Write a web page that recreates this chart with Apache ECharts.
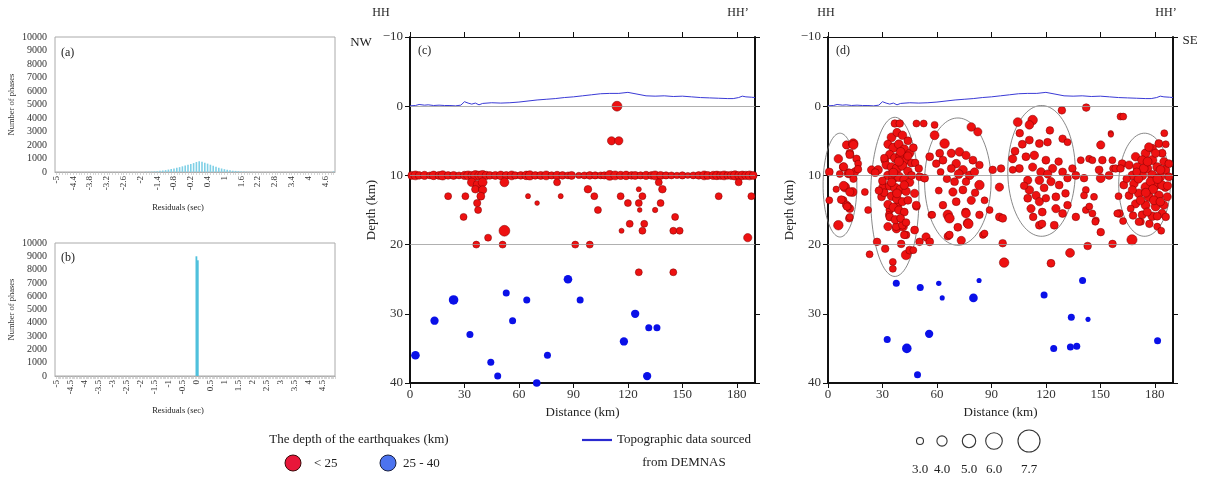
<!DOCTYPE html>
<html><head><meta charset="utf-8">
<script src="https://cdn.jsdelivr.net/npm/echarts/dist/echarts.min.js"></script>
<style>html,body{margin:0;padding:0;background:#fff}#c{width:1208px;height:477px}</style>
</head><body><div id="c"></div>
<script>
// ---------- DATA ----------
var binsA   = [-2.0,-1.9,-1.8,-1.7,-1.6,-1.5,-1.4,-1.3,-1.2,-1.1,-1.0,-0.9,-0.8,-0.7,-0.6,-0.5,-0.4,-0.3,-0.2,-0.1,0.0,0.1,0.2,0.3,0.4,0.5,0.6,0.7,0.8,0.9,1.0,1.1,1.2,1.3,1.4,1.5,1.6,1.7,1.8,1.9,2.0,2.1,2.2,4.9];
var countsA = [5,8,12,18,30,45,60,85,110,140,180,220,260,310,360,420,480,540,600,660,740,800,760,690,620,540,460,390,320,260,210,170,130,100,80,60,45,32,22,15,10,6,4,40];
var binsB   = [0.0, 0.05];
var countsB = [9000, 8700];
var ticksA  = [-5,-4.4,-3.8,-3.2,-2.6,-2,-1.4,-0.8,-0.2,0.4,1,1.6,2.2,2.8,3.4,4,4.6];
var ticksB  = [-5,-4.5,-4,-3.5,-3,-2.5,-2,-1.5,-1,-0.5,0,0.5,1,1.5,2,2.5,3,3.5,4,4.5];
var distTicks  = [0,30,60,90,120,150,180];
var refDepths  = [0,10,20];
var legendMags = [3.0,4.0,5.0,6.0,7.7];

// topography profile: [distance km, elevation km]
var topoX = [0,3,5,8,10,13,16,19,22,25,28,30,32,34,36,38,40,45,50,55,60,65,70,75,80,85,90,95,100,105,110,115,120,125,130,135,140,145,150,155,160,165,170,175,178,181,183,185,188,190];
var topoE = [0.05,0.1,0.25,0.15,0.2,0.1,0.15,0.1,0.1,0.05,0.15,0.65,0.45,0.3,0.45,0.2,0.4,0.5,0.45,0.5,0.6,0.75,0.9,1.0,1.1,1.25,1.35,1.5,1.65,1.8,1.85,1.85,2.0,1.75,1.5,1.45,1.5,1.4,1.45,1.35,1.25,1.2,1.15,1.1,1.1,1.25,1.45,1.35,1.3,1.25];

// panel (c): [distance, depth, magnitude]
var redC = [
[1,10,3.3],[3,10,3.6],[5,10,3.2],[8,10,3.4],[11,10,3.0],[13,10,3.5],[16,10,3.3],[18,10,3.7],[21,10,3.2],[24,10,3.3],[27,10,3.0],[30,10,3.4],[32,10,3.6],[34,10,3.3],[36,10,3.8],[38,10,3.5],[40,10,3.9],[42,10,3.4],[44,10,3.2],[47,10,3.3],[50,10,3.5],[53,10,3.3],[56,10,3.6],[58,10,3.1],[61,10,3.2],[64,10,3.5],[66,10,3.7],[69,10,3.2],[72,10,3.3],[75,10,3.6],[78,10,3.1],[81,10,3.4],[84,10,3.2],[87,10,3.0],[89,10,3.3],[93,10,2.8],[96,10,3.0],[99,10,3.2],[102,10,3.1],[105,10,3.0],[107,10,3.1],[110,10,3.9],[113,10,3.6],[116,10,3.4],[119,10,3.5],[122,10,3.2],[124,10,3.3],[127,10,3.1],[130,10,3.4],[133,10,3.2],[135,10,3.6],[138,10,3.3],[141,10,3.1],[144,10,3.0],[147,10,2.8],[150,10,3.1],[153,10,2.7],[156,10,3.0],[159,10,3.2],[162,10,3.6],[164,10,3.3],[167,10,3.4],[169,10,3.5],[171,10,3.3],[173,10,3.6],[175,10,3.2],[177,10,3.4],[179,10,3.7],[181,10,3.3],[183,10,3.5],[185,10,3.4],[187,10,3.6],[189,10,3.3],
[34,11,3.5],[37,11.3,3.3],[40,11,3.6],[52,11,3.6],[81,11,3.0],[137,11,3.0],[181,11,3.0],
[36,12,3.2],[40,12.1,3.4],[98,12,3.2],[126,12,2.4],[139,12,3.2],
[21,13,3.0],[30.5,13,3.0],[39,13,3.3],[65,13,2.4],[83,13,2.4],[101.5,13,3.0],[116,13,3.0],[128,13,3.0],[170,13,3.0],[188,13,3.0],
[37,14,3.1],[70,14,2.3],[120,14,3.0],[126,14,3.0],[138,14,3.0],
[37.5,15,3.0],[103.5,15,3.0],[126.5,15,2.3],[135,15,2.5],
[29.5,16,3.0],[146,16,3.0],
[121,17,3.0],[129,17,3.0],
[52,18,4.2],[116.5,18,2.4],[128,18,3.0],[145,18,3.0],[148.5,18,3.0],
[43,19,3.0],[186,19,3.4],
[36.5,20,3.0],[51,20,3.0],[91,20,3.0],[99,20,3.0],
[126,24,3.0],[145,24,3.0],
[114,0,3.9],[111,5,3.4],[115,5,3.4]
];
var blueC = [[3,36,3.5],[13.5,31,3.4],[24,28,3.8],[33,33,3.0],[44.5,37,3.0],[48.3,39,3.0],[53,27,3.0],[56.5,31,3.0],[64.3,28,3.0],[69.8,40,3.2],[75.7,36,3.0],[87,25,3.5],[93.7,28,3.0],[117.8,34,3.4],[124,30,3.4],[130.6,39,3.4],[131.5,32,3.0],[136,32,3.0]];

// panel (d): relocated events
var redD = [
[0.7,9.5,3.3],[5.7,7.6,3.5],[10.2,5.6,3.4],[13.9,5.4,3.8],[12,6.8,3.3],[15.7,7.6,3.2],[16.6,8.3,3.0],[14.8,9.5,3.4],[11.2,9.7,3.6],[8.4,8.8,3.3],[9.3,11.7,3.8],[13.5,12.4,3.6],[8.4,13.6,3.2],[10.2,14.3,3.4],[12,14.8,3.3],[11.7,16.2,3.2],[5.7,17.2,3.8],[0.7,13.6,3.0],[12,16,3.0],[11,14.5,3.2],[14,5.6,3.6],[12,7,3.3],[8.6,8.75,3.4],[12,9.7,3.5],[16.5,9.1,3.2],[8.6,11.5,3.6],[12,12.4,3.4],[7.3,13.5,3.3],[10.5,14.5,3.2],[6.5,9.8,3.0],[14,10.5,3.1],[4.5,12,2.8],
[20.3,12.4,3.0],[22.1,15,3.0],
[24,9.2,3.4],[27.6,9.2,3.5],[31.3,7.8,3.3],[30.4,11.7,3.6],[29.5,13.1,3.3],[34,15,3.2],[33,17.4,3.4],[37.7,17.7,3.5],[41.3,17.4,3.6],[43,18.6,3.2],[47.7,17.9,3.3],[48.7,14.5,3.2],[47.7,12.6,3.4],[50.5,10.2,3.3],[53.2,10.4,3.3],[36.8,2.5,3.2],[39.5,2.5,3.2],[48.7,2.5,3.0],[52.7,2.5,3.0],[58.7,2.7,3.0],
[22.9,21.4,3.0],[27,19.6,3.2],[31.5,20.6,3.2],[33.5,15.7,3.0],[35.7,22.5,3.0],[35.7,23.5,3.0],[40.3,19.9,3.2],[43,21.5,3.8],[45,20.8,3.3],[47,20.8,3.0],[50.4,19.6,3.2],[54,18.9,3.4],[56,19.6,3.3],[37.6,17.4,3.3],[41,17.2,3.3],[42,18.6,3.2],[38.5,14.3,3.2],[48.6,14.3,3.3],
[35,4.5,3.6],[38,3.8,3.4],[41,4.2,3.5],[44,5,3.3],[33,5.5,3.4],[36,6,3.7],[39,5.5,3.6],[42,6.2,3.5],[45,6.8,3.4],[34,7,3.5],[37,7.5,3.7],[40,7.2,3.8],[43,7.8,3.5],[46,8.2,3.3],[32,8.5,3.4],[35,8.8,3.6],[38,9,3.8],[41,8.6,3.7],[44,9.4,3.5],[33,10,3.5],[36,10.4,3.7],[39,10.2,3.8],[42,10.6,3.6],[45,11,3.4],[34,11.5,3.6],[37,11.8,3.7],[40,12,3.6],[43,12.3,3.5],[31,12.5,3.3],[35,13,3.5],[38,13.4,3.6],[41,13.8,3.4],[44,13.6,3.3],[33,14.2,3.4],[36,14.6,3.5],[39,15,3.4],[42,15.3,3.3],[34,16,3.3],[37,16.4,3.4],[40,16.2,3.3],[43,16.8,3.2],[38,12.6,3.6],[36,9.6,3.6],[40,6.6,3.6],[42,11.4,3.5],[39,8,3.7],[35,11,3.5],[44,7.2,3.4],[46,10,3.3],[30,10.8,3.3],[28,12.2,3.2],[26,9.6,3.3],[48,8.2,3.2],[50,9,3.2],[47,6,3.3],[31,7.5,3.2],
[58.7,4.2,3.6],[64.2,5.4,3.8],[78.9,3,3.5],[82.5,3.7,3.4],[61.5,6.8,3.3],[67.9,6.8,3.4],[72.4,6.6,3.5],[76,7.1,3.4],[79.8,7.8,3.3],[83.4,8.5,3.2],[70.6,8.3,3.5],[67.9,9,3.3],[74.3,9.2,3.6],[78,10,3.5],[80.7,9.5,3.4],[63.3,7.8,3.3],[59.6,8.3,3.2],[56,7.3,3.3],[69.7,10.9,3.3],[76,10.9,3.2],[83.4,11.4,3.8],[68.8,12.4,3.4],[74.3,12.1,3.3],[78.9,13.6,3.4],[70.6,13.8,3.3],[86.2,13.6,3.0],[63.3,14.3,3.2],[75.8,15.3,3.3],[66,15.7,3.8],[77,16.9,3.7],[83.4,15.7,3.2],[67,16.2,3.3],[56.9,15.7,3.0],[85.3,18.6,3.0],[66,18.8,3.2],[73.4,19.4,3.4],[66.9,16.2,3.8],[76,15.5,3.6],[77.3,17,3.8],[86.2,18.4,3.0],[66.9,18.6,3.2],[57.4,15.7,3.0],[72,9.8,3.6],[65.5,10.5,3.2],[81,12.5,3.2],[61,12.2,3.0],[71.5,17.5,3.3],[62,9.5,3.0],
[90.7,9.2,3.2],[95.3,9,3.2],[94.4,11.7,3.4],[94.4,16,3.3],[96.2,16.2,3.3],[96.2,19.8,3.2],[97,22.6,3.8],[89,15,3.0],
[104.5,2.3,3.6],[112.7,2,3.8],[110.9,2.7,3.5],[105.6,3.9,3.2],[110.9,4.9,3.3],[116.4,5.4,3.3],[120.9,5.2,3.2],[122.2,3.5,3.2],[129.2,4.7,3.2],[131.9,5.2,3.0],[101.7,7.6,3.4],[109,7.3,3.3],[113.6,7.1,3.5],[120,7.8,3.3],[123.7,9,3.4],[129.2,9.5,3.3],[134.6,9,3.2],[112.7,8.8,3.4],[117.3,9.5,3.5],[105.4,9,3.3],[101.7,9.2,3.0],[110,10.7,3.4],[116.4,10.7,3.5],[122.8,10.9,3.4],[127.3,11.4,3.3],[131.9,10.4,3.2],[136.5,10,3.3],[139.2,7.8,3.0],[143.8,7.6,3.0],[150.2,5.6,3.4],[155.7,3.9,2.5],[161.1,1.5,3.0],[149.3,9.2,3.3],[154.8,10,3.3],[150.2,10.4,3.6],[110.9,12.1,3.5],[114.6,12.9,3.4],[110,13.3,3.3],[116.4,13.8,3.4],[120,13.3,3.2],[125.5,13.1,3.3],[130.8,12.6,3.2],[111.8,14.8,3.4],[118,15.3,3.3],[125.5,14.8,3.4],[129.2,15.5,3.3],[131.9,14.3,3.2],[142,12.1,3.0],[146.5,13.1,3.0],[116.4,17.2,3.3],[124.6,17.2,3.3],[136.5,16,3.2],[142,15,3.0],[147.5,16.5,3.0],[150.2,18.2,3.2],[117.9,17,3.2],[122.8,22.7,3.3],[133.3,21.2,3.6],[143,20.2,3.2],[147.2,16.7,3.0],[156.7,19.9,3.2],[160.4,15.5,3.3],[167.4,19.3,4.0],[172.3,16.7,3.0],[143.9,14.5,3.0],[128.8,0.6,3.2],[142.2,0.2,3.2],[162.6,1.5,3.0],[155.8,4.1,2.5],[185.2,3.9,3.0],[107,5.5,3.3],[103,6.5,3.3],[119,11.8,3.3],[113,16,3.2],[127,8,3.2],[121,9.8,3.4],[108,11.5,3.2],
[145.6,7.8,3.0],[151.1,7.8,3.2],[156.6,7.8,3.0],[141,10.4,3.2],[141,12.9,3.0],[145.6,15.5,3.0],[157,9,3.0],[160,13,3.0],
[182.2,5.4,3.3],[178.6,6.1,3.4],[174.9,6.8,3.6],[184,6.8,3.3],[169.4,7.3,3.5],[173,7.8,3.6],[178.6,7.8,3.7],[185,8,3.4],[162,8.3,3.3],[165.8,8.5,3.4],[170.3,8.8,3.6],[175.8,9,3.7],[181.3,8.8,3.6],[185.8,9.2,3.5],[167.6,10,3.5],[173,10,3.7],[178.6,10,3.8],[183.1,10.2,3.6],[187.7,10.2,3.3],[162.9,11.4,3.3],[168.5,11.2,3.5],[174.9,11.7,3.7],[180.4,11.4,3.7],[185.8,11.7,3.5],[165.8,12.9,3.3],[171.2,12.6,3.6],[176.7,13.1,3.7],[182.2,12.9,3.6],[186.8,13.1,3.4],[169.4,14.1,3.4],[174.9,14.3,3.6],[180.4,14.5,3.6],[185,14.3,3.4],[173,15.7,3.3],[178.6,15.9,3.5],[184,15.5,3.4],[181.3,17.4,3.0],[171.2,16.7,3.2],[166.7,14.8,3.0],[159.3,15.5,3.0],[158.4,9,3.2],[161.1,9,3.2],[180.4,6.8,3.4],[176.7,5.9,3.5],[173.9,9,3.6],[177.6,10.9,3.6],[184,11.4,3.6],[179.5,13.6,3.6],[175.8,15.3,3.4],[172.1,13.6,3.5],[167.6,12.1,3.4],[183.1,9.2,3.6],[187.7,8.3,3.3],[181.3,15.9,3.3],[176,8,3.6],[171,10.5,3.5],[179,12,3.7],[183,13.8,3.5],[186,16,3.2],[177,17,3.2],[170,9.5,3.3],[164.5,10.5,3.2],[181.5,10.5,3.7],[175,12.5,3.6],[187,11.5,3.4],[168,15.8,3.2],[183.5,18,3.0],[162.5,16.6,3.0],[186,5.5,3.0]
];
var blueD = [[37.6,25.6,3.0],[50.8,26.2,3.0],[61,25.6,2.5],[62.9,27.7,2.4],[80.1,27.7,3.5],[83.2,25.2,2.4],[32.6,33.7,3.0],[43.4,35,3.8],[55.7,32.9,3.4],[49.3,38.8,3.0],[119,27.3,3.0],[124.3,35,3.0],[134,30.5,3.0],[140.2,25.2,3.0],[143.2,30.8,2.4],[133.5,34.8,3.0],[137,34.7,3.0],[181.5,33.9,3.0]];

// cluster ellipses in (d): [centre distance, centre depth, half-width km, half-height km]
var clusters = [[6.6,11.4,9.3,7.5],[36.8,13.1,13.3,11.5],[71.5,10.9,18.3,9.2],[117.6,9.35,18.6,9.45],[174.3,11.35,14.2,7.45]];

// ---------- HELPERS ----------
var SERIF = '"Liberation Serif","DejaVu Serif",serif';
function sizeOf(m){ return Math.max(4, 7 + (m - 3) * 3.2); }
function topo(){ return topoX.map(function(x,i){ return [x, -topoE[i]]; }); }
function pairs(xs, ys){ return xs.map(function(x,i){ return [x, ys[i]]; }); }
var minorA = []; for (var i=0;i<=100;i++){ minorA.push(Math.round((-5 + i*0.1)*10)/10); }
var minorB = []; for (var j=0;j<=200;j++){ minorB.push(Math.round((-5 + j*0.05)*100)/100); }
function depthFmt(v){ return v < 0 ? '\u2212' + (-v) : String(v); }

function histX(grid, labels, minor){
  return {type:'value', gridIndex:grid, min:-5.05, max:4.95,
    axisLine:{show:true, lineStyle:{color:'#aaa', width:1}},
    axisTick:{show:true, customValues:minor, length:3, lineStyle:{color:'#bbb', width:0.6}},
    axisLabel:{customValues:labels, rotate:90, fontSize:9, fontFamily:SERIF, color:'#333', margin:4, formatter:function(v){ return String(v); }},
    splitLine:{show:false}};
}
function histY(grid){
  return {type:'value', gridIndex:grid, min:0, max:10000, interval:1000,
    name:'Number of phases', nameLocation:'middle', nameGap:39, nameRotate:90,
    nameTextStyle:{fontSize:8.5, fontFamily:SERIF, color:'#333'},
    axisLine:{show:false}, axisTick:{show:false},
    axisLabel:{fontSize:10, fontFamily:SERIF, color:'#333', margin:8, formatter:function(v){ return String(v); }},
    splitLine:{show:false}};
}
function distX(grid, top){
  return {type:'value', gridIndex:grid, min:0, max:190, position: top ? 'top' : 'bottom',
    name: top ? '' : 'Distance (km)', nameLocation:'middle', nameGap:20,
    nameTextStyle:{fontSize:13, fontFamily:SERIF, color:'#222'},
    axisLine:{show:true, onZero:false, lineStyle:{color:'#111', width: top ? 1.2 : 2}},
    axisTick:{show:true, inside:false, length:5, customValues:distTicks, lineStyle:{color:'#111', width:1}},
    axisLabel:{show:!top, customValues:distTicks, fontSize:13, fontFamily:SERIF, color:'#333', margin:5},
    splitLine:{show:false}};
}
function depthY(grid, right){
  return {type:'value', gridIndex:grid, min:-10, max:40, interval:10, inverse:true, position: right ? 'right' : 'left',
    name: right ? '' : 'Depth (km)', nameLocation:'middle', nameGap:32, nameRotate:90,
    nameTextStyle:{fontSize:13, fontFamily:SERIF, color:'#222'},
    axisLine:{show:true, onZero:false, lineStyle:{color:'#111', width:2}},
    axisTick:{show:true, inside:false, length:5, lineStyle:{color:'#111', width:1}},
    axisLabel:{show:!right, fontSize:13, fontFamily:SERIF, color:'#333', margin:7, formatter:depthFmt},
    splitLine:{show:false}};
}
function refLines(){
  return {silent:true, symbol:'none', label:{show:false},
    lineStyle:{color:'#9c9c9c', width:0.8, type:'solid'},
    data: refDepths.map(function(d){ return {yAxis:d}; })};
}
function topoSeries(xi, yi){
  return {type:'line', xAxisIndex:xi, yAxisIndex:yi, data:topo(), showSymbol:false, symbol:'none',
    lineStyle:{color:'#3a3ad6', width:1}, z:2, markLine:refLines()};
}
function quakes(xi, yi, data, fill, border){
  return {type:'scatter', xAxisIndex:xi, yAxisIndex:yi, data:data,
    symbolSize:function(d){ return sizeOf(d[2]); },
    itemStyle:{color:fill, borderColor:border, borderWidth: border ? 0.5 : 0, opacity:1}, z:4};
}

// ---------- CHART ----------
var chart = echarts.init(document.getElementById('c'), null, {renderer:'canvas'});
var graphics = [];
function txt(t, x, y, size, align){
  graphics.push({type:'text', silent:true, style:{text:t, x:x, y:y, fill:'#222', font: size + 'px ' + SERIF, textAlign: align || 'center', verticalAlign:'middle'}});
}
txt('(a)', 61, 53, 12, 'left');
txt('(b)', 61, 258, 12, 'left');
txt('Residuals (sec)', 178, 208, 8.5);
txt('Residuals (sec)', 178, 411, 8.5);
txt('(c)', 418, 51, 12, 'left');
txt('(d)', 836, 51, 12, 'left');
txt('HH', 381, 13, 12);
txt('HH\u2019', 738, 13, 12);
txt('HH', 826, 13, 12);
txt('HH\u2019', 1166, 13, 12);
txt('NW', 361, 43, 13);
txt('SE', 1190, 41, 13);
// legends
txt('The depth of the earthquakes (km)', 359, 440, 13);
graphics.push({type:'circle', silent:true, shape:{cx:293, cy:463, r:8}, style:{fill:'#e8173a', stroke:'#3a0a0a', lineWidth:1}});
txt('< 25', 314, 464, 13, 'left');
graphics.push({type:'circle', silent:true, shape:{cx:388, cy:463, r:8}, style:{fill:'#4c73ef', stroke:'#1a2040', lineWidth:1}});
txt('25 - 40', 403, 464, 13, 'left');
graphics.push({type:'line', silent:true, shape:{x1:582, y1:440, x2:612, y2:440}, style:{stroke:'#2a2ad0', lineWidth:2.2}});
txt('Topographic data sourced', 617, 440, 13, 'left');
txt('from DEMNAS', 684, 463, 13);
var legX = [920, 942, 969, 994, 1029];
legendMags.forEach(function(m, k){
  graphics.push({type:'circle', silent:true, shape:{cx:legX[k], cy:441, r:sizeOf(m)/2}, style:{fill:'none', stroke:'#333', lineWidth:1.1}});
  txt(m.toFixed(1), legX[k], 470, 13);
});

var option = {
  animation:false,
  backgroundColor:'#fff',
  grid:[
    {left:55, top:37, width:280, height:135, show:true, borderColor:'#aaa', borderWidth:1, backgroundColor:'transparent'},
    {left:55, top:243, width:280, height:133, show:true, borderColor:'#aaa', borderWidth:1, backgroundColor:'transparent'},
    {left:410, top:37, width:345, height:346},
    {left:828, top:37, width:345, height:346}
  ],
  xAxis:[ histX(0, ticksA, minorA), histX(1, ticksB, minorB), distX(2,false), distX(2,true), distX(3,false), distX(3,true) ],
  yAxis:[ histY(0), histY(1), depthY(2,false), depthY(2,true), depthY(3,false), depthY(3,true) ],
  series:[
    {type:'bar', xAxisIndex:0, yAxisIndex:0, data:pairs(binsA, countsA), barWidth:1.6, itemStyle:{color:'#7fd0e6'}},
    {type:'bar', xAxisIndex:1, yAxisIndex:1, data:pairs(binsB, countsB), barWidth:1.8, itemStyle:{color:'#4fc0dc'}},
    topoSeries(2,2),
    quakes(2,2, redC, '#ee1111', '#7a0000'),
    quakes(2,2, blueC, '#0a10e8', null),
    {type:'custom', xAxisIndex:4, yAxisIndex:4, data:clusters, clip:false, z:3,
      renderItem:function(params, api){
        var c = api.coord([api.value(0), api.value(1)]);
        var s = api.size([api.value(2), api.value(3)]);
        var rx = Math.abs(s[0]), ry = Math.abs(s[1]), pts = [];
        for (var k=0;k<=90;k++){ var t = k/90*2*Math.PI; pts.push([c[0]+rx*Math.cos(t), c[1]+ry*Math.sin(t)]); }
        return {type:'polyline', shape:{points:pts}, style:{stroke:'#6a6a6a', lineWidth:0.8, fill:null}};
      }},
    topoSeries(4,4),
    quakes(4,4, redD, '#ee1111', '#7a0000'),
    quakes(4,4, blueD, '#0a10e8', null)
  ],
  graphic: graphics
};
chart.setOption(option);
</script></body></html>
